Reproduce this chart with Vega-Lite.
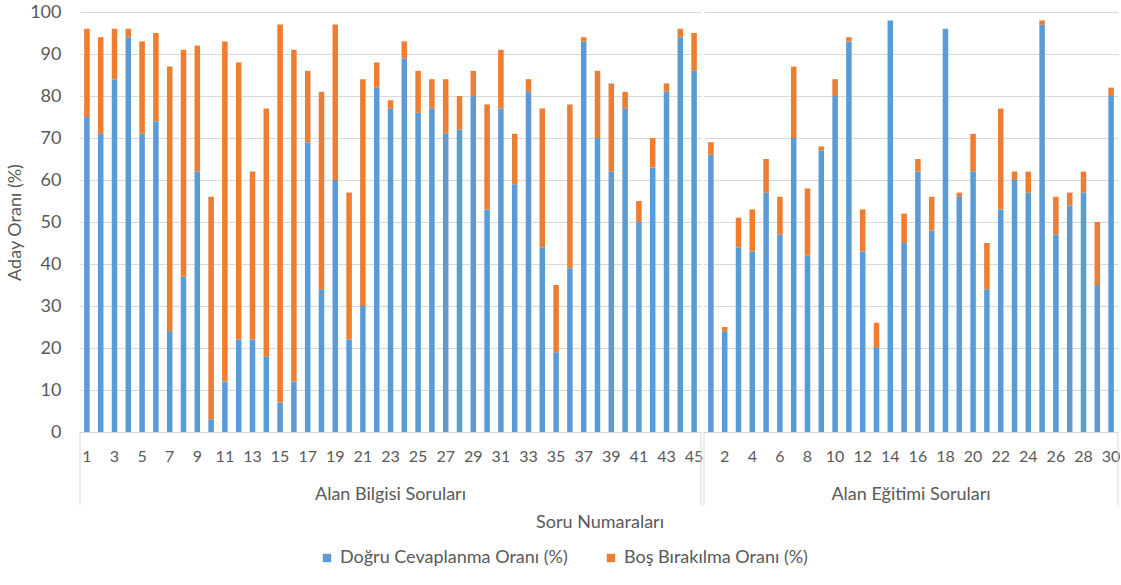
{
  "$schema": "https://vega.github.io/schema/vega-lite/v6.json",
  "padding": {"left": 6, "top": 3, "right": 0, "bottom": 5},
  "background": "white",
  "config": {
    "font": "Lato",
    "view": {"stroke": null},
    "legend": {"layout": {"bottom": {"anchor": "middle"}}}
  },
  "data": {"values": [
    {"g": "Alan Bilgisi Soruları", "n": 1, "d": 75, "b": 21},
    {"g": "Alan Bilgisi Soruları", "n": 2, "d": 71, "b": 23},
    {"g": "Alan Bilgisi Soruları", "n": 3, "d": 84, "b": 12},
    {"g": "Alan Bilgisi Soruları", "n": 4, "d": 94, "b": 2},
    {"g": "Alan Bilgisi Soruları", "n": 5, "d": 71, "b": 22},
    {"g": "Alan Bilgisi Soruları", "n": 6, "d": 74, "b": 21},
    {"g": "Alan Bilgisi Soruları", "n": 7, "d": 24, "b": 63},
    {"g": "Alan Bilgisi Soruları", "n": 8, "d": 37, "b": 54},
    {"g": "Alan Bilgisi Soruları", "n": 9, "d": 62, "b": 30},
    {"g": "Alan Bilgisi Soruları", "n": 10, "d": 3, "b": 53},
    {"g": "Alan Bilgisi Soruları", "n": 11, "d": 12, "b": 81},
    {"g": "Alan Bilgisi Soruları", "n": 12, "d": 22, "b": 66},
    {"g": "Alan Bilgisi Soruları", "n": 13, "d": 22, "b": 40},
    {"g": "Alan Bilgisi Soruları", "n": 14, "d": 18, "b": 59},
    {"g": "Alan Bilgisi Soruları", "n": 15, "d": 7, "b": 90},
    {"g": "Alan Bilgisi Soruları", "n": 16, "d": 12, "b": 79},
    {"g": "Alan Bilgisi Soruları", "n": 17, "d": 69, "b": 17},
    {"g": "Alan Bilgisi Soruları", "n": 18, "d": 34, "b": 47},
    {"g": "Alan Bilgisi Soruları", "n": 19, "d": 60, "b": 37},
    {"g": "Alan Bilgisi Soruları", "n": 20, "d": 22, "b": 35},
    {"g": "Alan Bilgisi Soruları", "n": 21, "d": 30, "b": 54},
    {"g": "Alan Bilgisi Soruları", "n": 22, "d": 82, "b": 6},
    {"g": "Alan Bilgisi Soruları", "n": 23, "d": 77, "b": 2},
    {"g": "Alan Bilgisi Soruları", "n": 24, "d": 89, "b": 4},
    {"g": "Alan Bilgisi Soruları", "n": 25, "d": 76, "b": 10},
    {"g": "Alan Bilgisi Soruları", "n": 26, "d": 77, "b": 7},
    {"g": "Alan Bilgisi Soruları", "n": 27, "d": 71, "b": 13},
    {"g": "Alan Bilgisi Soruları", "n": 28, "d": 72, "b": 8},
    {"g": "Alan Bilgisi Soruları", "n": 29, "d": 80, "b": 6},
    {"g": "Alan Bilgisi Soruları", "n": 30, "d": 53, "b": 25},
    {"g": "Alan Bilgisi Soruları", "n": 31, "d": 77, "b": 14},
    {"g": "Alan Bilgisi Soruları", "n": 32, "d": 59, "b": 12},
    {"g": "Alan Bilgisi Soruları", "n": 33, "d": 81, "b": 3},
    {"g": "Alan Bilgisi Soruları", "n": 34, "d": 44, "b": 33},
    {"g": "Alan Bilgisi Soruları", "n": 35, "d": 19, "b": 16},
    {"g": "Alan Bilgisi Soruları", "n": 36, "d": 39, "b": 39},
    {"g": "Alan Bilgisi Soruları", "n": 37, "d": 93, "b": 1},
    {"g": "Alan Bilgisi Soruları", "n": 38, "d": 70, "b": 16},
    {"g": "Alan Bilgisi Soruları", "n": 39, "d": 62, "b": 21},
    {"g": "Alan Bilgisi Soruları", "n": 40, "d": 77, "b": 4},
    {"g": "Alan Bilgisi Soruları", "n": 41, "d": 50, "b": 5},
    {"g": "Alan Bilgisi Soruları", "n": 42, "d": 63, "b": 7},
    {"g": "Alan Bilgisi Soruları", "n": 43, "d": 81, "b": 2},
    {"g": "Alan Bilgisi Soruları", "n": 44, "d": 94, "b": 2},
    {"g": "Alan Bilgisi Soruları", "n": 45, "d": 86, "b": 9},
    {"g": "Alan Eğitimi Soruları", "n": 46, "d": 66, "b": 3},
    {"g": "Alan Eğitimi Soruları", "n": 47, "d": 24, "b": 1},
    {"g": "Alan Eğitimi Soruları", "n": 48, "d": 44, "b": 7},
    {"g": "Alan Eğitimi Soruları", "n": 49, "d": 43, "b": 10},
    {"g": "Alan Eğitimi Soruları", "n": 50, "d": 57, "b": 8},
    {"g": "Alan Eğitimi Soruları", "n": 51, "d": 47, "b": 9},
    {"g": "Alan Eğitimi Soruları", "n": 52, "d": 70, "b": 17},
    {"g": "Alan Eğitimi Soruları", "n": 53, "d": 42, "b": 16},
    {"g": "Alan Eğitimi Soruları", "n": 54, "d": 67, "b": 1},
    {"g": "Alan Eğitimi Soruları", "n": 55, "d": 80, "b": 4},
    {"g": "Alan Eğitimi Soruları", "n": 56, "d": 93, "b": 1},
    {"g": "Alan Eğitimi Soruları", "n": 57, "d": 43, "b": 10},
    {"g": "Alan Eğitimi Soruları", "n": 58, "d": 20, "b": 6},
    {"g": "Alan Eğitimi Soruları", "n": 59, "d": 98, "b": 0},
    {"g": "Alan Eğitimi Soruları", "n": 60, "d": 45, "b": 7},
    {"g": "Alan Eğitimi Soruları", "n": 61, "d": 62, "b": 3},
    {"g": "Alan Eğitimi Soruları", "n": 62, "d": 48, "b": 8},
    {"g": "Alan Eğitimi Soruları", "n": 63, "d": 96, "b": 0},
    {"g": "Alan Eğitimi Soruları", "n": 64, "d": 56, "b": 1},
    {"g": "Alan Eğitimi Soruları", "n": 65, "d": 62, "b": 9},
    {"g": "Alan Eğitimi Soruları", "n": 66, "d": 34, "b": 11},
    {"g": "Alan Eğitimi Soruları", "n": 67, "d": 53, "b": 24},
    {"g": "Alan Eğitimi Soruları", "n": 68, "d": 60, "b": 2},
    {"g": "Alan Eğitimi Soruları", "n": 69, "d": 57, "b": 5},
    {"g": "Alan Eğitimi Soruları", "n": 70, "d": 97, "b": 1},
    {"g": "Alan Eğitimi Soruları", "n": 71, "d": 47, "b": 9},
    {"g": "Alan Eğitimi Soruları", "n": 72, "d": 54, "b": 3},
    {"g": "Alan Eğitimi Soruları", "n": 73, "d": 57, "b": 5},
    {"g": "Alan Eğitimi Soruları", "n": 74, "d": 35, "b": 15},
    {"g": "Alan Eğitimi Soruları", "n": 75, "d": 80, "b": 2}
  ]},
  "facet": {
    "column": {
      "field": "g", "type": "nominal",
      "sort": ["Alan Bilgisi Soruları", "Alan Eğitimi Soruları"],
      "header": {
        "labelOrient": "bottom", "labelFontSize": 18, "labelColor": "#595959", "labelPadding": -20,
        "title": "Soru Numaraları", "titleOrient": "bottom", "titleFontSize": 18,
        "titleFontWeight": "normal", "titleColor": "#595959", "titlePadding": -2
      }
    }
  },
  "spacing": 0,
  "resolve": {"scale": {"x": "independent"}},
  "spec": {
    "width": {"step": 13.8},
    "height": 420,
    "layer": [
      {
        "transform": [{"fold": ["d", "b"], "as": ["seri", "oran"]}],
        "mark": {"type": "bar"},
        "encoding": {
          "x": {
            "field": "n", "type": "ordinal",
            "scale": {"paddingInner": 0.6, "paddingOuter": 0.3},
            "axis": {
              "title": null, "labelAngle": 0, "ticks": false, "tickSize": 0,
              "labelExpr": "datum.value % 2 == 1 ? '' + (datum.value > 45 ? datum.value - 45 : datum.value) : ''",
              "labelOverlap": false, "domainColor": "#D9D9D9", "labelColor": "#595959",
              "labelFontSize": 16, "labelPadding": 16, "grid": false
            }
          },
          "y": {
            "field": "oran", "type": "quantitative", "stack": "zero",
            "scale": {"domain": [0, 100]},
            "axis": {
              "title": "Aday Oranı (%)", "values": [0, 10, 20, 30, 40, 50, 60, 70, 80, 90, 100],
              "domain": false, "ticks": false, "tickSize": 0, "labelPadding": 18,
              "gridColor": "#D9D9D9", "labelColor": "#595959", "labelFontSize": 18,
              "titleColor": "#595959", "titleFontSize": 18, "titleFontWeight": "normal", "titlePadding": 5
            }
          },
          "color": {
            "field": "seri", "type": "nominal",
            "scale": {"domain": ["d", "b"], "range": ["#5B9BD5", "#ED7D31"]},
            "legend": {
              "title": null, "orient": "bottom", "direction": "horizontal",
              "labelExpr": "datum.label == 'd' ? 'Doğru Cevaplanma Oranı (%)' : 'Boş Bırakılma Oranı (%)'",
              "symbolType": "square", "symbolSize": 70, "symbolStrokeWidth": 0,
              "labelFontSize": 18, "labelColor": "#595959", "labelLimit": 400,
              "columnPadding": 34, "offset": 17
            }
          },
          "order": {"field": "seri", "sort": "descending"}
        }
      },
      {
        "transform": [
          {"joinaggregate": [{"op": "min", "field": "n", "as": "mn"}], "groupby": ["g"]},
          {"filter": "datum.n == datum.mn"}
        ],
        "mark": {"type": "rule", "color": "#D9D9D9", "strokeWidth": 1},
        "encoding": {
          "x": {"field": "n", "type": "ordinal", "bandPosition": -0.75},
          "y": {"datum": 0, "type": "quantitative"},
          "y2": {"datum": -17.5}
        }
      },
      {
        "transform": [
          {"joinaggregate": [{"op": "max", "field": "n", "as": "mx"}], "groupby": ["g"]},
          {"filter": "datum.n == datum.mx"}
        ],
        "mark": {"type": "rule", "color": "#D9D9D9", "strokeWidth": 1},
        "encoding": {
          "x": {"field": "n", "type": "ordinal", "bandPosition": 1.75},
          "y": {"datum": 0, "type": "quantitative"},
          "y2": {"datum": -17.5}
        }
      }
    ]
  }
}
